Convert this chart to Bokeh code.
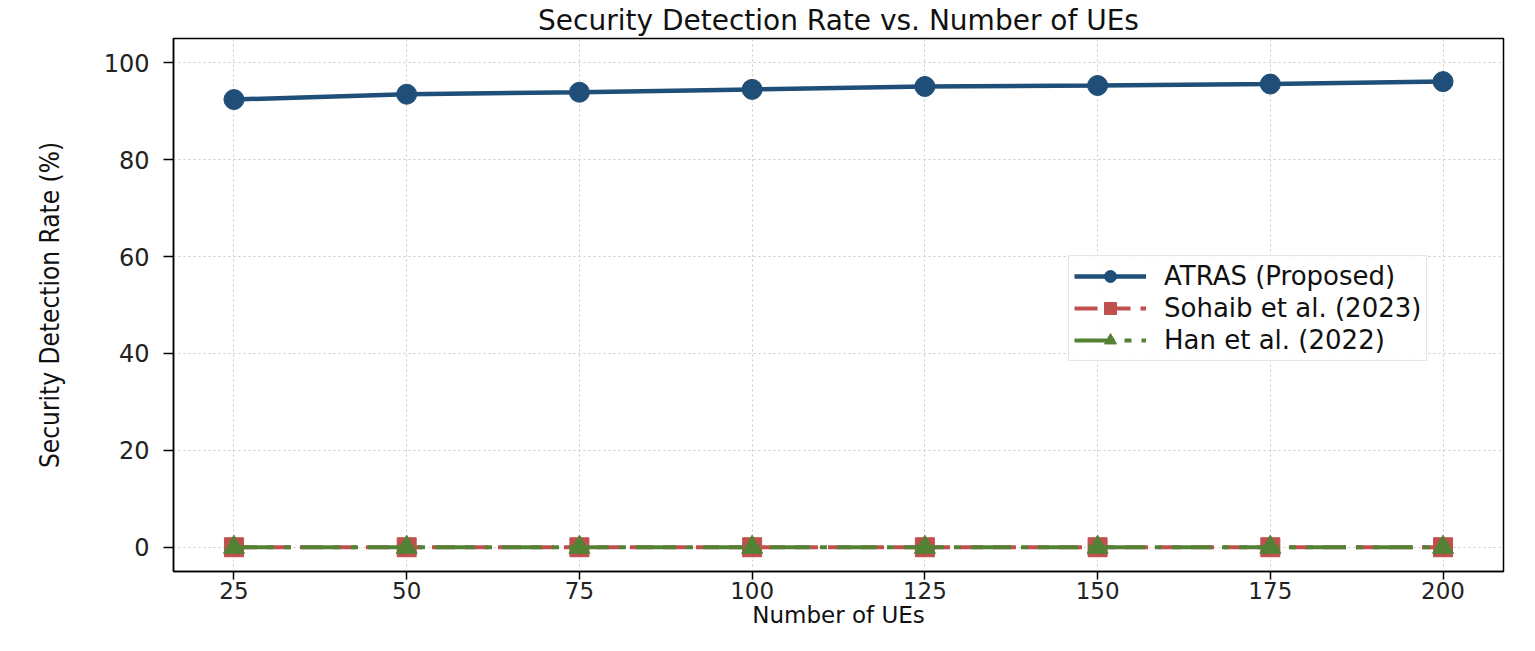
from bokeh.plotting import figure
from bokeh.models import Range1d, FixedTicker, Legend, LegendItem
from bokeh.embed import file_html
from bokeh.resources import INLINE

# ---- data ----
num_ues = [25, 50, 75, 100, 125, 150, 175, 200]
atras = [92.4, 93.5, 93.9, 94.5, 95.1, 95.3, 95.6, 96.1]
sohaib = [0, 0, 0, 0, 0, 0, 0, 0]
han = [0, 0, 0, 0, 0, 0, 0, 0]
y_ticks = [0, 20, 40, 60, 80, 100]

title_text = "Security Detection Rate vs. Number of UEs"
x_label = "Number of UEs"
y_label = "Security Detection Rate (%)"
names = ["ATRAS (Proposed)", "Sohaib et al. (2023)", "Han et al. (2022)"]
colors = ["#1F4E79", "#C0504D", "#548235"]

FONT = "DejaVu Sans"

p = figure(width=1519, height=635, output_backend="svg", toolbar_location=None,
           x_range=Range1d(16.25, 208.75), y_range=Range1d(-5, 105),
           min_border_left=173, min_border_right=16, min_border_top=38, min_border_bottom=64,
           background_fill_color="white", border_fill_color="white")

p.title.text = title_text
p.title.align = "center"
p.title.text_font = FONT
p.title.text_font_size = "28px"
p.title.text_font_style = "normal"
p.title.text_color = "#111111"
p.title.standoff = 3

p.outline_line_color = "black"
p.outline_line_width = 1.5

# axes
for ax in (p.xaxis[0], p.yaxis[0]):
    ax.axis_line_color = "black"
    ax.axis_line_width = 1.5
    ax.major_tick_line_color = "black"
    ax.major_tick_line_width = 1.5
    ax.major_tick_in = 0
    ax.minor_tick_line_color = None
    ax.major_label_text_font = FONT
    ax.major_label_text_font_size = "24px"
    ax.major_label_text_color = "#222222"
    ax.axis_label_text_font = FONT
    ax.axis_label_text_font_style = "normal"
    ax.axis_label_text_color = "#111111"

p.xaxis.ticker = FixedTicker(ticks=num_ues)
p.yaxis.ticker = FixedTicker(ticks=y_ticks)
p.xaxis.major_tick_out = 8
p.yaxis.major_tick_out = 10
p.xaxis.major_label_standoff = 2
p.xaxis.major_label_text_font_size = "23px"
p.yaxis.major_label_standoff = 14
p.xaxis.axis_label = x_label
p.xaxis.axis_label_text_font_size = "23px"
p.xaxis.axis_label_standoff = 0
p.yaxis.axis_label = y_label
p.yaxis.axis_label_text_font = "DejaVu Sans Condensed"
p.yaxis.axis_label_text_font_size = "26px"
p.yaxis.axis_label_standoff = 36

# grid
p.xgrid.ticker = FixedTicker(ticks=num_ues)
p.ygrid.ticker = FixedTicker(ticks=y_ticks)
for g in (p.xgrid[0], p.ygrid[0]):
    g.grid_line_color = "#c8c8c8"
    g.grid_line_dash = "2 3"
    g.grid_line_width = 1

# series
l1 = p.line(num_ues, atras, line_color=colors[0], line_width=4.5)
m1 = p.scatter(num_ues, atras, marker="circle", size=20, fill_color=colors[0], line_color=colors[0])

l2 = p.line(num_ues, sohaib, line_color=colors[1], line_width=4, line_dash="23 10")
m2 = p.scatter(num_ues, sohaib, marker="square", size=19, fill_color=colors[1], line_color=colors[1])

l3 = p.line(num_ues, han, line_color=colors[2], line_width=4, line_dash="40 10 7 10")
m3 = p.scatter(num_ues, han, marker="triangle", size=21, fill_color=colors[2], line_color=colors[2])

legend = Legend(items=[
    LegendItem(label=names[0], renderers=[l1, m1]),
    LegendItem(label=names[1], renderers=[l2, m2]),
    LegendItem(label=names[2], renderers=[l3, m3]),
], location=(895, 210))
legend.label_text_font = FONT
legend.label_text_font_size = "26px"
legend.label_text_color = "#111111"
legend.glyph_width = 72
legend.glyph_height = 30
legend.label_height = 30
legend.label_standoff = 18
legend.spacing = 2
legend.padding = 5
legend.margin = 0
legend.border_line_color = "#cccccc"
legend.border_line_width = 1.5
legend.background_fill_color = "white"
legend.background_fill_alpha = 0.85
p.add_layout(legend)

open("out.html", "w").write(file_html(p, INLINE))
